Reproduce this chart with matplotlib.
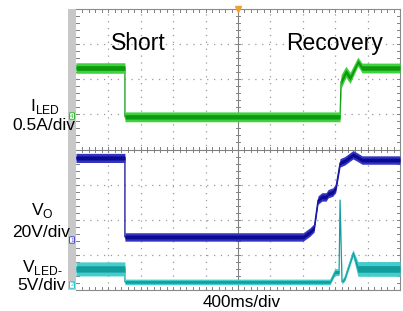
import numpy as np
import matplotlib
matplotlib.use('Agg')
import matplotlib.pyplot as plt
from matplotlib.patches import Rectangle

plt.rcParams['font.family'] = ['Liberation Sans', 'DejaVu Sans']
plt.rcParams['mathtext.fontset'] = 'custom'
plt.rcParams['mathtext.rm'] = 'Liberation Sans'

# ---- traces, in scope divisions (x: 0..10, y: 0..8 from bottom) ----
# I_LED (ch4, green)
iled_t = [0, 1.51, 1.51, 8.15, 8.18, 8.33, 8.46, 8.70, 8.83, 10]
iled_v = [6.32, 6.32, 4.93, 4.93, 5.93, 6.21, 6.04, 6.50, 6.32, 6.32]
iled_w = [0.15, 0.15, 0.14, 0.14, 0.20, 0.16, 0.16, 0.13, 0.14, 0.14]

# V_O (ch1, blue)
vo_t = [0, 1.51, 1.51, 7.01, 7.22, 7.35, 7.47, 7.59, 7.72, 7.78, 7.93,
        8.02, 8.15, 8.30, 8.55, 8.67, 8.83, 10]
vo_v = [3.76, 3.76, 1.51, 1.51, 1.65, 1.77, 2.56, 2.65, 2.65, 2.74, 2.79,
        2.91, 3.62, 3.68, 3.85, 3.79, 3.70, 3.70]
vo_w = [0.13, 0.13, 0.12, 0.12, 0.12, 0.12, 0.12, 0.12, 0.12, 0.12, 0.12,
        0.12, 0.12, 0.12, 0.12, 0.12, 0.12, 0.12]

# V_LED- (ch2, cyan)
vled_t = [0, 1.51, 1.51, 7.84, 7.99, 8.12, 8.15, 8.21, 8.30, 8.55, 8.70, 10]
vled_v = [0.60, 0.60, 0.23, 0.23, 0.51, 0.51, 2.56, 0.23, 0.34, 1.05, 0.60, 0.60]
vled_w = [0.20, 0.20, 0.08, 0.08, 0.10, 0.10, 0.02, 0.06, 0.08, 0.10, 0.21, 0.21]

W, H = 403, 311
fig = plt.figure(figsize=(W / 100, H / 100), dpi=100, facecolor='white')
ax = fig.add_axes([76 / W, (H - 290) / H, (400 - 76) / W, (290 - 9) / H])
ax.set_xlim(0, 10)
ax.set_ylim(0, 8)
ax.set_xticks([])
ax.set_yticks([])
for s in ['top', 'right', 'bottom']:
    ax.spines[s].set_color('#8a8a8a')
    ax.spines[s].set_linewidth(0.8)
ax.spines['left'].set_visible(False)

# dotted graticule
for i in range(1, 10):
    if i != 5:
        ax.axvline(i, color='#999999', lw=0.9, ls=(0, (1, 4.5)), zorder=1)
for j in range(1, 8):
    if j != 4:
        ax.axhline(j, color='#999999', lw=0.9, ls=(0, (1, 4.5)), zorder=1)
ax.axvline(5, color='#808080', lw=0.8, zorder=1)
ax.axhline(4, color='#808080', lw=0.8, zorder=1)

# minor ticks on center lines and borders
for x in np.arange(0.2, 10, 0.2):
    ax.plot([x, x], [3.94, 4.06], color='#808080', lw=0.7, zorder=1)
    ax.plot([x, x], [7.92, 8], color='#808080', lw=0.7, zorder=1)
    ax.plot([x, x], [0, 0.08], color='#808080', lw=0.7, zorder=1)
for y in np.arange(0.2, 8, 0.2):
    ax.plot([4.93, 5.07], [y, y], color='#808080', lw=0.7, zorder=1)
    ax.plot([9.92, 10], [y, y], color='#808080', lw=0.7, zorder=1)
    ax.plot([0, 0.08], [y, y], color='#808080', lw=0.7, zorder=1)


def trace(t, v, w, c_out, c_in, z):
    t = np.array(t)
    v = np.array(v)
    w = np.array(w)
    ax.plot(t, v, color=c_in, lw=0.9, zorder=z)
    ax.fill_between(t, v - w, v + w, color=c_out, lw=0, zorder=z)
    ax.fill_between(t, v - w * 0.45, v + w * 0.45, color=c_in, lw=0, zorder=z)


trace(iled_t, iled_v, iled_w, '#3fd23f', '#0e9a0e', 3)
trace(vo_t, vo_v, vo_w, '#3434c0', '#0a0a92', 4)
trace(vled_t, vled_v, vled_w, '#45cccc', '#139c9c', 5)

# trigger marker
ax.plot([5], [8], marker='v', color='#f0a030', ms=4, clip_on=False, zorder=6)

# gray strip on the left
fig.add_artist(Rectangle((68 / W, (H - 290) / H), 8 / W, 281 / H,
                         transform=fig.transFigure, color='#c8c8c8', lw=0))

# channel markers
for yy, lab, col in [(116, '4', '#2cb82c'), (240, '1', '#4a4ad0'), (285, '2', '#20c8d8')]:
    fig.text(72 / W, 1 - yy / H, lab, fontsize=4.5, ha='center', va='center', color=col,
             bbox=dict(boxstyle='round,pad=0.12', fc='white', ec=col, lw=0.7))

# annotations
fig.text(138 / W, 1 - 50 / H, 'Short', fontsize=16.5, ha='center', va='baseline')
fig.text(335 / W, 1 - 50 / H, 'Recovery', fontsize=16.5, ha='center', va='baseline')
fig.text(242 / W, 1 - 307 / H, '400ms/div', fontsize=12.3, ha='center', va='baseline')

fig.text(45 / W, 1 - 111 / H, r'I$_{\mathregular{LED}}$', fontsize=12.5, ha='center', va='baseline')
fig.text(44 / W, 1 - 130 / H, '0.5A/div', fontsize=12.5, ha='center', va='baseline')
fig.text(42 / W, 1 - 215 / H, r'V$_{\mathregular{O}}$', fontsize=12.5, ha='center', va='baseline')
fig.text(41 / W, 1 - 237 / H, '20V/div', fontsize=12.5, ha='center', va='baseline')
fig.text(42 / W, 1 - 272 / H, r'V$_{\mathregular{LED\text{-}}}$', fontsize=12.5, ha='center', va='baseline')
fig.text(42 / W, 1 - 290 / H, '5V/div', fontsize=12.5, ha='center', va='baseline')

fig.savefig('out.png', dpi=100, facecolor='white')
